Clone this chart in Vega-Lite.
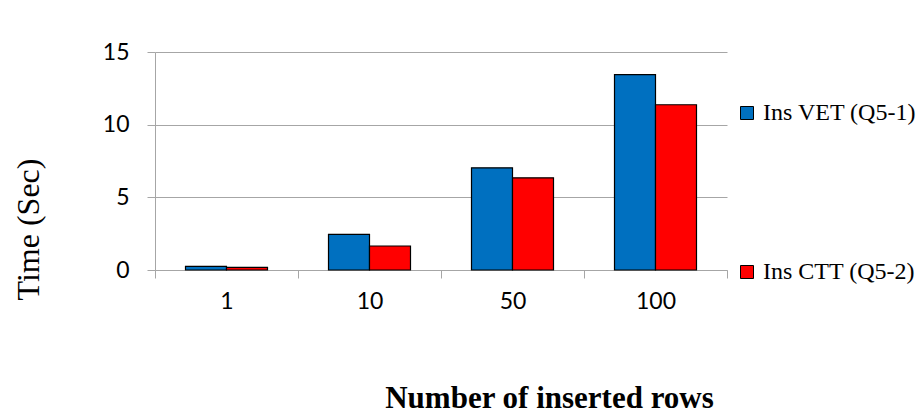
{
  "$schema": "https://vega.github.io/schema/vega-lite/v6.json",
  "width": 572,
  "height": 218,
  "autosize": {"type": "none"},
  "padding": {"left": 155, "top": 52, "right": 194, "bottom": 144},
  "background": "white",
  "config": {"view": {"stroke": null}, "font": "Lato"},
  "data": {
    "values": [
      {"rows": "1", "series": "Ins VET (Q5-1)", "time": 0.25},
      {"rows": "1", "series": "Ins CTT (Q5-2)", "time": 0.18},
      {"rows": "10", "series": "Ins VET (Q5-1)", "time": 2.45},
      {"rows": "10", "series": "Ins CTT (Q5-2)", "time": 1.65},
      {"rows": "50", "series": "Ins VET (Q5-1)", "time": 7.03},
      {"rows": "50", "series": "Ins CTT (Q5-2)", "time": 6.34},
      {"rows": "100", "series": "Ins VET (Q5-1)", "time": 13.45},
      {"rows": "100", "series": "Ins CTT (Q5-2)", "time": 11.37}
    ]
  },
  "mark": {"type": "bar", "stroke": "black", "strokeWidth": 1.2},
  "encoding": {
    "x": {
      "field": "rows",
      "type": "nominal",
      "sort": ["1", "10", "50", "100"],
      "scale": {"paddingInner": 0, "paddingOuter": 0},
      "axis": {
        "tickBand": "extent",
        "labelAngle": 0,
        "domainColor": "#A6A6A6",
        "tickColor": "#A6A6A6",
        "tickSize": 8,
        "labelFont": "Lato",
        "labelFontSize": 23,
        "labelPadding": 12,
        "labelColor": "black",
        "title": "Number of inserted rows",
        "titleFont": "Liberation Serif",
        "titleFontSize": 31,
        "titleFontWeight": "bold",
        "titleColor": "black",
        "titleX": 394,
        "titleY": 137,
        "titleAlign": "center",
        "titleBaseline": "alphabetic"
      }
    },
    "xOffset": {
      "field": "series",
      "type": "nominal",
      "sort": ["Ins VET (Q5-1)", "Ins CTT (Q5-2)"],
      "scale": {"paddingInner": 0, "paddingOuter": 0.744}
    },
    "y": {
      "field": "time",
      "type": "quantitative",
      "scale": {"domain": [0, 15], "nice": false},
      "axis": {
        "values": [0, 5, 10, 15],
        "grid": true,
        "gridColor": "#A6A6A6",
        "domainColor": "#A6A6A6",
        "tickColor": "#A6A6A6",
        "tickSize": 8,
        "labelFont": "Lato",
        "labelFontSize": 23,
        "labelColor": "black",
        "labelPadding": 18,
        "title": "Time (Sec)",
        "titleFont": "Liberation Serif",
        "titleFontSize": 32,
        "titleFontWeight": "normal",
        "titleColor": "black",
        "titleX": -127,
        "titleY": 177,
        "titleAngle": 270,
        "titleAlign": "center",
        "titleBaseline": "middle"
      }
    },
    "color": {
      "field": "series",
      "type": "nominal",
      "scale": {"domain": ["Ins VET (Q5-1)", "Ins CTT (Q5-2)"], "range": ["#0070C0", "#FF0000"]},
      "legend": {
        "orient": "none",
        "legendX": 580,
        "legendY": 49,
        "title": null,
        "symbolType": "square",
        "symbolSize": 169,
        "symbolStrokeColor": "black",
        "symbolStrokeWidth": 1,
        "symbolOpacity": 1,
        "labelFont": "Liberation Serif",
        "labelFontSize": 24,
        "labelColor": "black",
        "labelOffset": 4,
        "labelLimit": 300,
        "rowPadding": 135,
        "padding": 0
      }
    }
  }
}
